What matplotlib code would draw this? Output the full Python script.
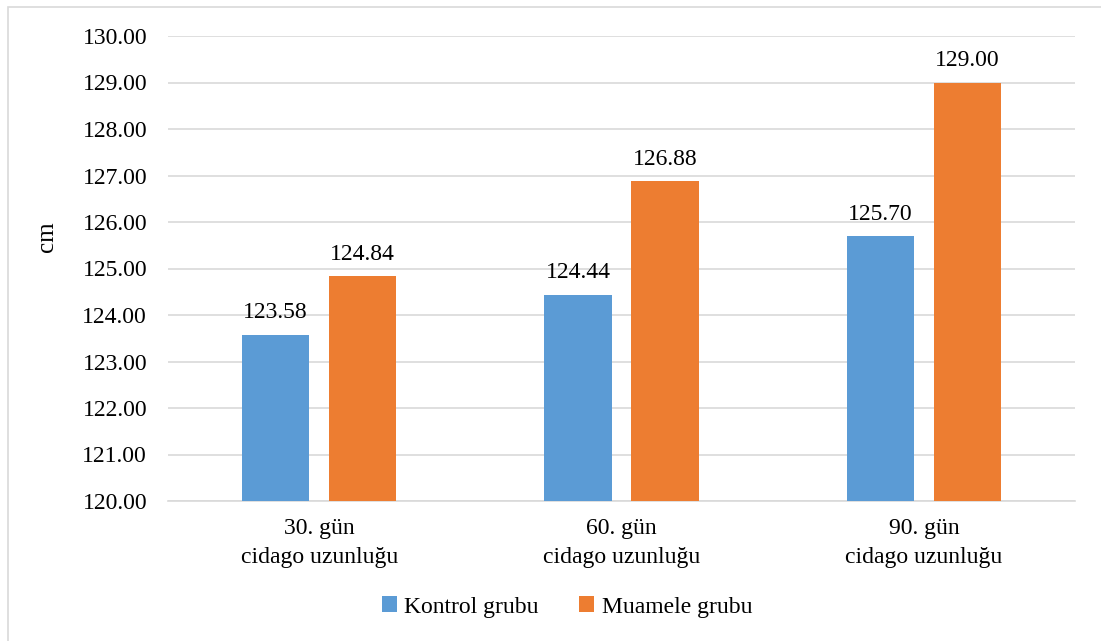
import matplotlib.pyplot as plt
import numpy as np
from matplotlib.patches import Rectangle

plt.rcParams["font.family"] = ["Liberation Serif", "DejaVu Serif"]

categories = ["30. gün\ncidago uzunluğu", "60. gün\ncidago uzunluğu", "90. gün\ncidago uzunluğu"]
kontrol = [123.58, 124.44, 125.70]
muamele = [124.84, 126.88, 129.00]
series_names = ["Kontrol grubu", "Muamele grubu"]
yticks = [120, 121, 122, 123, 124, 125, 126, 127, 128, 129, 130]

W, H = 1101, 641
fig = plt.figure(figsize=(W / 100, H / 100), dpi=100)

# chart area frame (only left/top edges show inside the canvas)
fig.patches.append(Rectangle((8 / W, -0.05), 1.2, 1 - 7 / H + 0.05,
                             transform=fig.transFigure, fill=False,
                             edgecolor="#D9D9D9", linewidth=1.2))

ax = fig.add_axes([168 / W, 1 - 501 / H, (1075 - 168) / W, (501 - 36) / H])

x = np.arange(len(categories))
width = 0.222
off = 0.144
b1 = ax.bar(x - off, np.array(kontrol) - 120, width, bottom=120,
            color="#5B9BD5", label=series_names[0], zorder=3)
b2 = ax.bar(x + off, np.array(muamele) - 120, width, bottom=120,
            color="#ED7D31", label=series_names[1], zorder=3)

for bars, vals in ((b1, kontrol), (b2, muamele)):
    for rect, v in zip(bars, vals):
        ax.annotate(f"{v:.2f}", (rect.get_x() + rect.get_width() / 2, v),
                    xytext=(0, 8), textcoords="offset points",
                    ha="center", va="bottom", fontsize=17)

ax.set_xlim(-0.5, 2.5)
ax.set_ylim(120, 130)
ax.set_yticks(yticks)
ax.set_yticklabels([f"{t:.2f}" for t in yticks], fontsize=17)
ax.set_xticks(x)
ax.set_xticklabels(categories, fontsize=17, linespacing=1.55)
ax.tick_params(axis="both", length=0)
ax.tick_params(axis="y", pad=15)
ax.tick_params(axis="x", pad=12)
ax.grid(axis="y", color="#D9D9D9", linewidth=1.2, zorder=0)
for s in ("left", "right", "top"):
    ax.spines[s].set_visible(False)
ax.spines["bottom"].set_color("#D9D9D9")
ax.spines["bottom"].set_linewidth(1.2)

fig.text(47 / W, 1 - 237 / H, "cm", rotation=90, ha="center", va="center", fontsize=18)

ax.legend(loc="center", bbox_to_anchor=(567 / W, 1 - 607 / H),
          bbox_transform=fig.transFigure, ncol=2, frameon=False,
          fontsize=17, handlelength=0.65, handleheight=0.65,
          handletextpad=0.3, columnspacing=1.7)

fig.savefig("out.png", dpi=100, facecolor="white")
